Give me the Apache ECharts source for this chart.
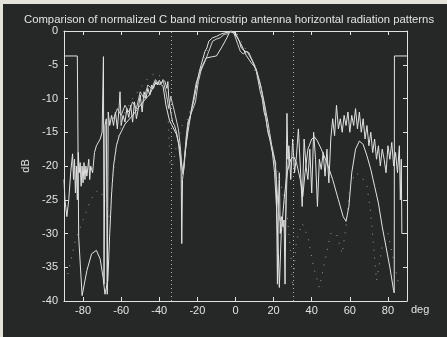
<!DOCTYPE html>
<html>
<head>
<meta charset="utf-8">
<script src="https://cdn.jsdelivr.net/npm/echarts@6/dist/echarts.min.js"></script>
<style>
  * { margin: 0; padding: 0; }
  body { background: #262828; }
  #chart { width: 447px; height: 337px; }
</style>
</head>
<body>
<div id="chart"></div>
<script>
// tick labels
var xTicks = [-80, -60, -40, -20, 0, 20, 40, 60, 80];
var nullMarks = [-33.7, 30.4];

// smooth curve (simulated), [deg, dB]
var simulated = [
  [-90,-3.7],[-83,-3.7],[-82.3,-30.5],[-80.5,-39.2],[-78,-35.5],[-75.5,-33],[-73,-32.5],
  [-71,-33.8],[-69.5,-36.5],[-68.5,-39],[-67,-37],[-66,-30],[-65,-24],[-64,-20],[-62.5,-17],
  [-61,-15.5],[-58,-13.8],[-54,-12.5],[-50.5,-11.2],[-47,-10],[-45,-9.4],[-43,-8.2],
  [-41.7,-7.7],[-40,-7.7],[-38,-8.2],[-36.5,-11],[-34.6,-13.3],[-31,-15.3],[-29.5,-17],
  [-28.5,-19.5],[-27.5,-21.2],[-26.5,-18],[-25,-15],[-23,-11.5],[-20.6,-7.7],[-18,-5.5],
  [-15.4,-4],[-12,-3.8],[-10,-3.7],[-7,-2.3],[-4.5,-1],[-3,-0.1],[-1,-0.3],[1,-1],[3,-2],
  [5.6,-3.6],[8,-4.6],[10.8,-5.6],[13,-7.8],[15,-10.5],[17,-13.5],[19,-17],[20.5,-21],
  [21.5,-26],[22.5,-33],[23,-38],[24,-30],[25.5,-25],[27,-21],[29,-19],[30.5,-18.6],
  [32,-19.5],[34,-22],[35.3,-24.5],[36.5,-21],[38,-17.5],[40,-16],[41.5,-15.7],[43,-16.3],
  [45,-17.5],[48,-19.5],[51,-22],[54,-25],[56.5,-27.5],[58,-28.2],[59.5,-26],[61,-21],
  [63,-17.5],[65,-16.3],[67,-16.8],[69,-18.5],[71,-20.5],[73,-23],[75,-25.5],[77,-29],
  [79,-32],[81,-35],[83,-38.5],[83.3,-38.8],[83.4,-3.7],[90,-3.7]
];

// measured curve 1
var measured1 = [
  [-90,-22],[-89.5,-25],[-88.5,-27.5],[-87.5,-25],[-86.5,-21],[-85.5,-18.2],[-85,-22],
  [-84.5,-19],[-84,-24],[-83.5,-20],[-83,-25],[-82.5,-18],[-82,-21],[-81.5,-19.5],[-81,-23],
  [-80.5,-20],[-80,-22.5],[-79.5,-19.5],[-79,-22],[-78.5,-20],[-78,-21.5],[-77,-19],
  [-76.5,-22],[-76,-20],[-75,-21],[-74,-18],[-73,-17],[-72,-16.5],[-71,-16],[-70,-15],
  [-69.3,-3.8],[-69,-37.5],[-68.5,-14],[-67.8,-13],[-67.3,-39],[-66.8,-12],[-66,-14],
  [-65,-12.5],[-64,-14],[-63,-12],[-62,-14.5],[-61,-11],[-60.6,-9],[-60,-14],[-59,-12.5],
  [-58,-13.5],[-57,-11.5],[-56,-12.8],[-55,-11],[-54,-13.5],[-53,-10.5],[-52,-13],
  [-51,-11.5],[-50,-9.5],[-49,-12],[-48,-9],[-47,-10],[-46,-8.5],[-45,-9.5],[-44,-8],
  [-43,-8.5],[-42,-7.5],[-41,-8],[-40,-7.3],[-39,-7.8],[-38,-7.2],[-37,-7.5],[-36,-8.5],
  [-35.5,-7.5],[-35,-10],[-34,-12],[-33,-13.5],[-32,-14],[-31,-15],[-30,-16.5],[-29,-19],
  [-28.5,-21],[-28.2,-31.5],[-27.8,-22],[-27,-20],[-26,-17],[-25,-14],[-24,-13],
  [-23,-11.5],[-22,-10.5],[-21,-9],[-20,-7.5],[-19,-6],[-18,-5],[-17,-4],[-16,-3],
  [-15,-2.5],[-14,-1.5],[-12,-1],[-10,-0.8],[-8,-0.5],[-6,-0.3],[-4,-0.2],[-2,0],
  [0,-0.3],[2,-1.5],[3,-2.5],[5,-3],[7,-3.2],[9,-4.5],[11,-6],[12,-7.5],[13,-9],[14,-10],
  [15,-12],[16,-13],[17,-15],[18,-16],[19,-17.5],[20,-18.5],[21,-19.5],[21.5,-24],
  [22,-37.5],[22.5,-26],[23,-21],[23.5,-30],[24,-27.5],[25,-29],[25.5,-28],[26,-37.5],
  [26.5,-25],[27,-12.2],[27.5,-19],[28,-17],[29,-22],[30,-16],[31,-21],[32,-18.5],
  [33,-14.5],[34,-20],[35,-26],[36,-16],[37,-20],[38,-22],[39,-17.5],[40,-24],[41,-15],
  [42,-19],[43,-26],[44,-19],[45,-20.5],[46,-18],[47,-21.5],[48,-17.5],[49,-22.5],
  [50,-16],[51,-13],[52,-15.5],[53,-11],[54,-14.5],[55,-13],[56,-15],[57,-12.5],[58,-14],
  [59,-12],[60,-15],[61,-12.5],[62,-14],[63,-11.5],[64,-14.5],[65,-12],[66,-15],[67,-13],
  [68,-16],[69,-14],[70,-17],[71,-15],[72,-18],[73,-16],[74,-19],[75,-17],[76,-20],
  [77,-17.5],[78,-19],[79,-21],[80,-17],[81,-19],[82,-16.5],[83,-20],[84,-18],[85,-21],
  [86,-17],[86.5,-25],[87,-19],[87.3,-30],[90,-30]
];

// measured curve 2
var measured2 = [
  [-64,-13],[-62,-11.5],[-60,-12.5],[-58,-11],[-56,-12],[-54,-10.5],[-52,-11.5],[-50,-9],
  [-48,-10],[-46,-8],[-44,-8.5],[-42,-7.2],[-40,-8],[-38,-7.4],[-36.5,-9],[-35,-11.5],
  [-34,-9.7],[-32,-12],[-30,-14.5],[-29,-17],[-28,-20.5],[-27.3,-21],[-26,-16],
  [-25,-13.5],[-23,-12],[-21,-10.5],[-19.5,-7.5],[-18,-5.8],[-16,-4.5],[-14,-3],
  [-12,-1.5],[-10,-1.2],[-8,-1],[-6,-0.5],[-4,-0.4],[-2.5,0],[-1,-0.2],[1,-1.8],
  [2.5,-3],[4,-3.4],[6,-3],[8,-4],[10,-5],[12,-7],[13.5,-8.5],[15,-11],[16.5,-14],
  [18,-16],[19.5,-17.5],[20.5,-19],[21.5,-22],[22.3,-26],[23,-27.5],[24,-29],[25,-28],
  [26,-30],[27,-22],[28,-18]
];

// dotted curve
var dotted = [
  [-88,-36],[-84,-31],[-80,-28],[-76,-25],[-72,-23.5],[-68,-25],[-66,-28],[-64.5,-22],
  [-62,-16],[-58,-12],[-54,-10],[-50,-8.5],[-46,-7],[-42,-6.2],[-39,-6.8],[-37,-8.5],
  [-35.5,-12],[-34.3,-20],[-33,-20],[-31,-17],[-28,-14],[-25,-13],[-22,-10],[-19,-6.5],
  [-16,-3.5],[-12,-1.5],[-8,-0.8],[-4,-0.2],[0,0],[4,-2],[8,-4],[12,-7.5],[16,-12.5],
  [20,-18],[24,-23],[27,-27],[29,-33],[30,-38],[32,-31],[35,-28.5],[38,-30.5],[41,-35],
  [44,-38],[47,-34],[50,-30],[53,-30],[56,-33],[58,-29],[60,-23],[63,-21],[66,-21.5],
  [69,-23],[71,-27],[74,-37],[77,-32],[80,-30],[83,-34],[86,-38]
];

var fg = '#e2e2e2';
var chart = echarts.init(document.getElementById('chart'));
chart.setOption({
  backgroundColor: '#262828',
  animation: false,
  title: {
    text: 'Comparison of normalized C band microstrip antenna horizontal radiation patterns',
    left: 19,
    top: 9,
    textStyle: { color: fg, fontSize: 11.3, fontWeight: 'normal', fontFamily: 'Liberation Sans' }
  },
  graphic: [
    { type: 'rect', left: 0, top: 0, shape: { width: 447, height: 4 }, style: { fill: '#e4e4dc' } },
    { type: 'rect', left: 0, top: 0, shape: { width: 3, height: 337 }, style: { fill: '#e4e4dc' } }
  ],
  grid: { left: 64, right: 40, top: 31, bottom: 36 },
  xAxis: [{
    type: 'value', min: -90, max: 90, interval: 10,
    name: 'deg', nameLocation: 'end', nameGap: 4,
    nameTextStyle: { color: fg, fontSize: 11, fontFamily: 'Liberation Sans', verticalAlign: 'top', padding: [3, 0, 0, 0] },
    axisLine: { onZero: false, lineStyle: { color: fg } },
    axisTick: { inside: true, length: 4, customValues: xTicks, lineStyle: { color: fg } },
    axisLabel: { customValues: xTicks, color: fg, fontSize: 11, fontFamily: 'Liberation Sans', margin: 4 },
    splitLine: { show: false }
  }, {
    type: 'value', position: 'top', min: -90, max: 90, interval: 10,
    axisLine: { onZero: false, lineStyle: { color: fg } },
    axisTick: { inside: true, length: 4, customValues: xTicks, lineStyle: { color: fg } },
    axisLabel: { show: false },
    splitLine: { show: false }
  }],
  yAxis: [{
    type: 'value', min: -40, max: 0, interval: 5,
    name: 'dB', nameLocation: 'middle', nameGap: 25, nameRotate: 90,
    nameTextStyle: { color: fg, fontSize: 11, fontFamily: 'Liberation Sans' },
    axisLine: { show: true, onZero: false, lineStyle: { color: fg } },
    axisTick: { show: true, inside: true, length: 4, lineStyle: { color: fg } },
    axisLabel: { color: fg, fontSize: 11, fontFamily: 'Liberation Sans', margin: 6 },
    splitLine: { show: false }
  }, {
    type: 'value', position: 'right', min: -40, max: 0, interval: 5,
    axisLine: { show: true, onZero: false, lineStyle: { color: fg } },
    axisTick: { show: true, inside: true, length: 4, lineStyle: { color: fg } },
    axisLabel: { show: false },
    splitLine: { show: false }
  }],
  series: [{
    name: 'simulated', type: 'line', data: simulated, symbol: 'none', clip: true,
    lineStyle: { color: fg, width: 1 },
    markLine: {
      silent: true, symbol: 'none', label: { show: false },
      lineStyle: { color: '#b0b0b0', type: [1, 3], width: 1 },
      data: nullMarks.map(function (v) { return { xAxis: v }; })
    }
  }, {
    name: 'measured 1', type: 'line', data: measured1, symbol: 'none', clip: true,
    lineStyle: { color: fg, width: 1 }
  }, {
    name: 'measured 2', type: 'line', data: measured2, symbol: 'none', clip: true,
    lineStyle: { color: '#cfcfcf', width: 1 }
  }, {
    name: 'dotted', type: 'line', data: dotted, symbol: 'none', clip: true,
    lineStyle: { color: '#9a9a9a', width: 1, type: [1, 7] }
  }]
});
</script>
</body>
</html>
